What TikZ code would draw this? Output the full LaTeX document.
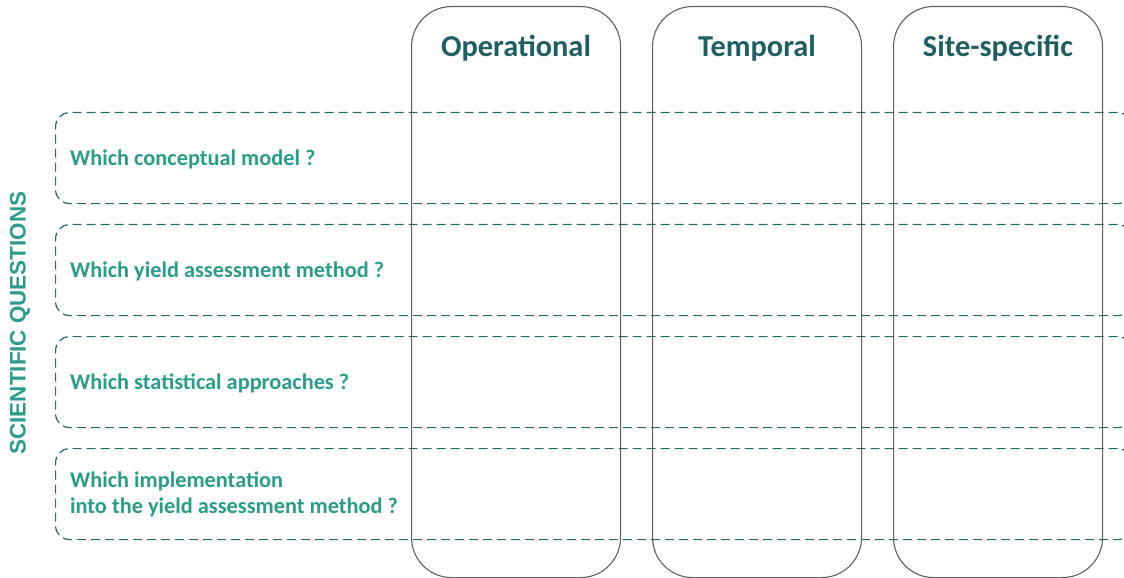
\documentclass[tikz,border=0pt]{standalone}
\usepackage{fontspec}
\setmainfont{Carlito}
\newfontfamily\arialfont{Liberation Sans}
\definecolor{headteal}{RGB}{31,94,99}
\definecolor{qgreen}{RGB}{42,157,138}
\definecolor{dashteal}{RGB}{38,105,110}
\definecolor{colgray}{RGB}{95,95,95}

\tikzset{
  column/.style={draw=colgray, line width=1.1bp, rounded corners=40bp,
    minimum width=209bp, minimum height=571bp, inner sep=0pt},
  header/.style={text=headteal, font=\bfseries\fontsize{30.5}{33}\selectfont},
  qrow/.style={draw=dashteal, line width=1.2bp, dash pattern=on 9bp off 5bp,
    rounded corners=14bp, minimum width=1076bp, minimum height=91bp, inner sep=0pt},
  question/.style={text=qgreen, font=\bfseries\fontsize{22.4}{26}\selectfont,
    align=left, anchor=west, inner sep=0pt},
}

\begin{document}
\begin{tikzpicture}[x=1bp, y=-1bp]
  \useasboundingbox (0,0) rectangle (1124,578);
  \clip (0,0) rectangle (1124,578);

  % question rows
  \node[qrow, anchor=north west] (row1) at (55,112) {};
  \node[qrow, anchor=north west] (row2) at (55,224) {};
  \node[qrow, anchor=north west] (row3) at (55,336) {};
  \node[qrow, anchor=north west] (row4) at (55,448) {};

  % columns
  \node[column, anchor=north west] (operational) at (411,6) {};
  \node[column, anchor=north west] (temporal) at (652,6) {};
  \node[column, anchor=north west] (site) at (893,6) {};

  \node[header] (opname) at (516,48) {Operational};
  \node[header] (tempname) at (757,48) {Temporal};
  \node[header] (sitename) at (998,48) {Site-specific};

  \node[question] (q1) at (70,159) {Which conceptual model ?};
  \node[question] (q2) at (70,271) {Which yield assessment method ?};
  \node[question] (q3) at (70,383) {Which statistical approaches ?};
  \node[question] (q4) at (70,494) {Which implementation\\into the yield assessment method ?};

  \node[rotate=90, text=qgreen, font=\arialfont\bfseries\fontsize{22.5}{24}\selectfont]
    (sq) at (20,323) {SCIENTIFIC QUESTIONS};
\end{tikzpicture}
\end{document}
